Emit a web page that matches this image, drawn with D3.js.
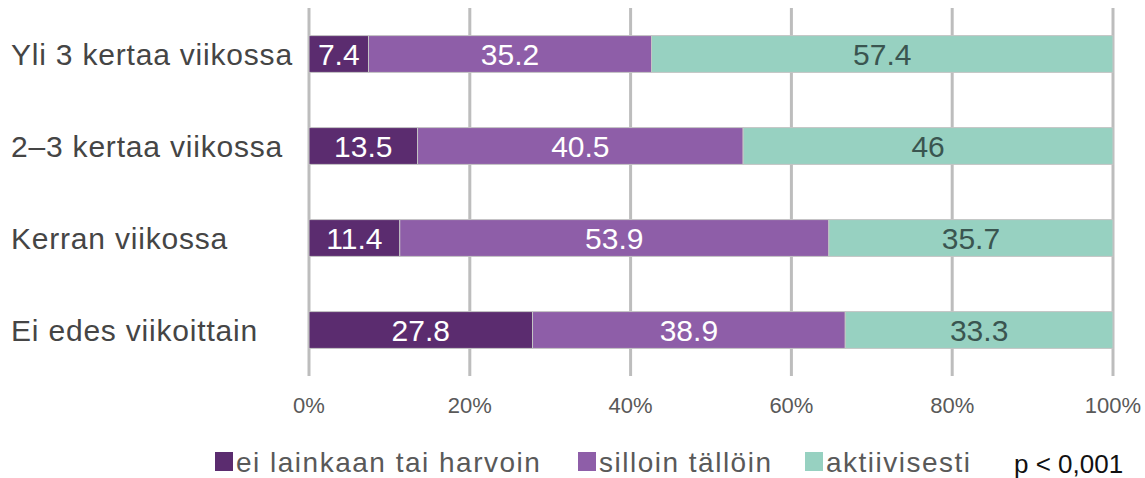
<!DOCTYPE html>
<html><head><meta charset="utf-8">
<script src="https://cdn.jsdelivr.net/npm/d3@7"></script>
<style>body{margin:0;background:#fff}</style>
</head><body>
<svg id="c" width="1145" height="478"></svg>
<script>
const categories = ["Yli 3 kertaa viikossa","2–3 kertaa viikossa","Kerran viikossa","Ei edes viikoittain"];
const seriesNames = ["ei lainkaan tai harvoin","silloin tällöin","aktiivisesti"];
const harvoin = [7.4,13.5,11.4,27.8];
const silloin = [35.2,40.5,53.9,38.9];
const aktiivisesti = [57.4,46,35.7,33.3];
const tickValues = [0,20,40,60,80,100];
const colors = ["#5b2c6f","#8e5ea8","#97d1c1"];
const labelColors = ["#ffffff","#ffffff","#3a5550"];
const note = "p < 0,001";

const svg = d3.select("#c");
const x = d3.scaleLinear().domain([0,100]).range([309,1113]);
const y = d3.scaleBand().domain(categories).range([8,376]).paddingInner(0.6).paddingOuter(0.3);
const font = "'Liberation Sans',Arial,sans-serif";

// grid
svg.append("g").selectAll("line").data(tickValues).join("line")
  .attr("x1",d=>x(d)).attr("x2",d=>x(d)).attr("y1",8).attr("y2",376)
  .attr("stroke","#bdbdbd").attr("stroke-width",3);

const series = [harvoin,silloin,aktiivisesti];
const stacked = categories.map((c,i)=>{
  const tot = d3.sum(series, s=>s[i]);
  let acc=0; return series.map((s,k)=>{const v=s[i]; const r={c,k,v,x0:acc/tot*100,x1:(acc+v)/tot*100}; acc+=v; return r;});
}).flat();

svg.append("g").selectAll("rect").data(stacked).join("rect")
  .attr("x",d=>x(d.x0)).attr("width",d=>x(d.x1)-x(d.x0))
  .attr("y",d=>y(d.c)).attr("height",y.bandwidth())
  .attr("fill",d=>colors[d.k]).attr("stroke","#c4c4c4").attr("stroke-width",1);

svg.append("g").selectAll("text").data(stacked).join("text")
  .attr("x",d=>x((d.x0+d.x1)/2)).attr("y",d=>y(d.c)+y.bandwidth()/2+11)
  .attr("text-anchor","middle").attr("font-family",font).attr("font-size",30)
  .attr("fill",d=>labelColors[d.k]).text(d=>String(d.v));

// category labels
svg.append("g").selectAll("text").data(categories).join("text")
  .attr("x",11).attr("y",d=>y(d)+y.bandwidth()/2+11)
  .attr("font-family",font).attr("font-size",30).attr("letter-spacing",0.8)
  .attr("fill","#454545").text(d=>d);

// x axis ticks
svg.append("g").selectAll("text").data(tickValues).join("text")
  .attr("x",d=>x(d)).attr("y",413).attr("text-anchor","middle")
  .attr("font-family",font).attr("font-size",22).attr("fill","#595959").text(d=>d+"%");

// legend
const lx = [215,578,805];
const lg = svg.append("g").selectAll("g").data(seriesNames).join("g")
  .attr("transform",(d,i)=>`translate(${lx[i]},0)`);
lg.append("rect").attr("x",0).attr("y",452).attr("width",18).attr("height",19).attr("fill",(d,i)=>colors[i]);
lg.append("text").attr("x",21).attr("y",472).attr("font-family",font).attr("font-size",28)
  .attr("letter-spacing",1.5).attr("fill","#595959").text(d=>d);

svg.append("text").attr("x",1014).attr("y",473).attr("font-family",font)
  .attr("font-size",26).attr("fill","#111").text(note);
</script>
</body></html>
